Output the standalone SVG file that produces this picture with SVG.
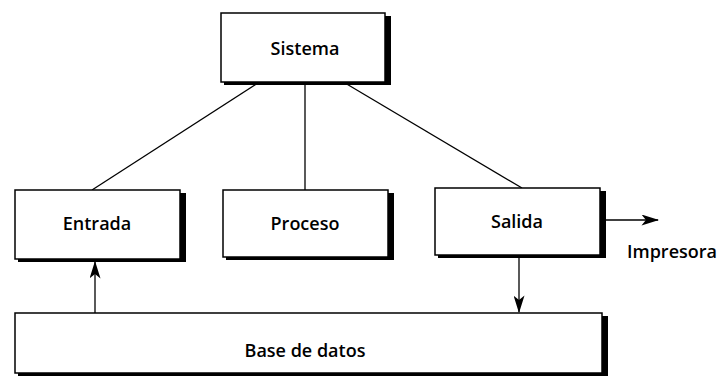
<svg xmlns="http://www.w3.org/2000/svg" width="723" height="382" viewBox="0 0 723 382">
<style>
.box{fill:#fff;stroke:#000;stroke-width:1.5}
.sh{fill:#000}
.t{font-family:"Open Sans","Liberation Sans",sans-serif;font-weight:600;font-size:18px;text-anchor:middle;fill:#000}
.ln{stroke:#000;stroke-width:1.3;fill:none}
</style>
<defs>
<marker id="ahw" viewBox="0 0 16 10" refX="15" refY="5" markerWidth="18" markerHeight="11" markerUnits="userSpaceOnUse" orient="auto">
<path d="M0,0 L16,5 L0,10 L4,5 Z" fill="#000"/>
</marker>
</defs>
<g id="connectors">
<line class="ln" x1="258" y1="83" x2="92" y2="190"/>
<line class="ln" x1="305" y1="83" x2="305" y2="190"/>
<line class="ln" x1="345" y1="83" x2="522" y2="188"/>
<line class="ln" x1="95" y1="313" x2="95" y2="262" marker-end="url(#ahw)"/>
<line class="ln" x1="519" y1="256" x2="519" y2="312" marker-end="url(#ahw)"/>
<line class="ln" x1="605" y1="220" x2="658" y2="220" marker-end="url(#ahw)"/>
</g>
<g id="sistema">
<rect class="sh" x="224" y="16" width="167" height="69"/>
<rect class="box" x="221" y="13" width="164" height="69"/>
<text class="t" x="305" y="55">Sistema</text>
</g>
<g id="entrada">
<rect class="sh" x="18" y="193" width="168" height="69"/>
<rect class="box" x="15" y="190" width="165" height="69"/>
<text class="t" x="97" y="230">Entrada</text>
</g>
<g id="proceso">
<rect class="sh" x="226" y="193" width="168" height="67"/>
<rect class="box" x="223" y="190" width="165" height="67"/>
<text class="t" x="305" y="230">Proceso</text>
</g>
<g id="salida">
<rect class="sh" x="438" y="191" width="168" height="67"/>
<rect class="box" x="435" y="188" width="165" height="67"/>
<text class="t" x="517" y="228">Salida</text>
</g>
<g id="impresora">
<text class="t" x="672" y="258">Impresora</text>
</g>
<g id="basedatos">
<rect class="sh" x="18" y="316" width="590" height="60"/>
<rect class="box" x="15" y="313" width="587" height="60"/>
<text class="t" x="305" y="357">Base de datos</text>
</g>
</svg>
